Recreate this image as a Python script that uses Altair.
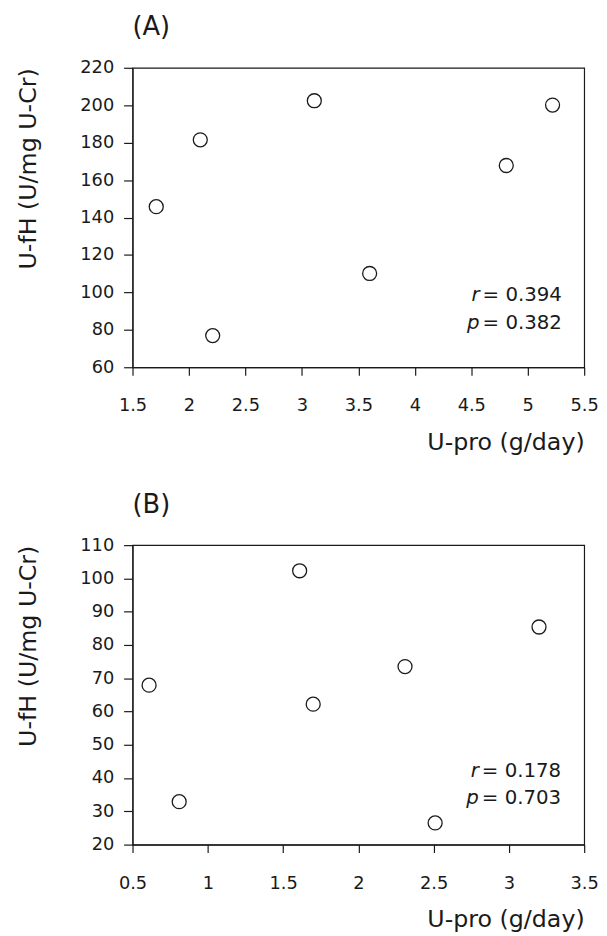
import altair as alt
import pandas as pd

# Panel A data
a_upro = [1.71, 2.10, 2.21, 3.11, 3.60, 4.81, 5.22]
a_ufh = [145.8, 181.5, 76.9, 202.4, 110.1, 167.8, 200.1]
a_xticks = [1.5, 2, 2.5, 3, 3.5, 4, 4.5, 5, 5.5]
a_yticks = [60, 80, 100, 120, 140, 160, 180, 200, 220]
a_stats = ["= 0.394", "= 0.382"]
a_annot_x = [4.60, 4.60]
a_annot_y = [98.5, 83.5]

# Panel B data
b_upro = [0.61, 0.81, 1.61, 1.70, 2.31, 2.51, 3.20]
b_ufh = [67.9, 32.9, 102.3, 62.2, 73.5, 26.5, 85.4]
b_xticks = [0.5, 1, 1.5, 2, 2.5, 3, 3.5]
b_yticks = [20, 30, 40, 50, 60, 70, 80, 90, 100, 110]
b_stats = ["= 0.178", "= 0.703"]
b_annot_x = [2.82, 2.82]
b_annot_y = [42.0, 34.0]

stat_names = ["r", "p"]

FONT = "DejaVu Sans"
INK = "#1a1a1a"
XTITLE = "U-pro (g/day)"
YTITLE = "U-fH (U/mg U-Cr)"


def panel(xs, ys, xticks, yticks, letter, stats, annx, anny):
    df = pd.DataFrame({"x": xs, "y": ys})
    ann = pd.DataFrame({"x": annx, "y": anny, "name": stat_names, "val": stats})
    xs_ = alt.Scale(domain=[xticks[0], xticks[-1]], nice=False, zero=False)
    ys_ = alt.Scale(domain=[yticks[0], yticks[-1]], nice=False, zero=False)
    xaxis = alt.Axis(values=xticks, tickCount=len(xticks), labelExpr="'' + datum.value",
                     title=XTITLE, titleAnchor="end",
                     tickSize=8, labelPadding=22, titlePadding=16, labelFlush=False,
                     labelOverlap=False, grid=False)
    yaxis = alt.Axis(values=yticks, tickCount=len(yticks), labelExpr="'' + datum.value",
                     title=YTITLE, titleAnchor="end",
                     tickSize=9, labelPadding=10, titlePadding=40, labelOverlap=False, grid=False)
    pts = alt.Chart(df).mark_point(shape="circle", filled=False, color=INK, size=200,
                                   strokeWidth=1.3, opacity=1).encode(
        x=alt.X("x:Q", scale=xs_, axis=xaxis),
        y=alt.Y("y:Q", scale=ys_, axis=yaxis),
    )
    t1 = alt.Chart(ann).mark_text(align="right", baseline="middle", fontStyle="italic",
                                  font=FONT, fontSize=20, color=INK, dx=-3).encode(
        x=alt.X("x:Q", scale=xs_, title=XTITLE),
        y=alt.Y("y:Q", scale=ys_, title=YTITLE),
        text="name:N",
    )
    t2 = alt.Chart(ann).mark_text(align="left", baseline="middle",
                                  font=FONT, fontSize=20, color=INK).encode(
        x=alt.X("x:Q", scale=xs_, title=XTITLE),
        y=alt.Y("y:Q", scale=ys_, title=YTITLE),
        text="val:N",
    )
    return alt.layer(pts, t1, t2).properties(
        width=457, height=303,
        title=alt.TitleParams(letter, anchor="start", frame="group", fontSize=26, font=FONT,
                              fontWeight="normal", color=INK, offset=19),
    )


pa = panel(a_upro, a_ufh, a_xticks, a_yticks, "(A)", a_stats, a_annot_x, a_annot_y)
pb = panel(b_upro, b_ufh, b_xticks, b_yticks, "(B)", b_stats, b_annot_x, b_annot_y)

chart = alt.vconcat(pa, pb, spacing=36).properties(
    padding={"left": 8, "top": 0, "right": 0, "bottom": 0},
    background="white",
).configure_view(
    stroke=INK, strokeWidth=1.2
).configure_axis(
    grid=False, domainColor=INK, tickColor=INK, labelColor=INK, titleColor=INK,
    labelFont=FONT, titleFont=FONT, labelFontSize=18, titleFontSize=24,
    titleFontWeight="normal", domainWidth=1.2, tickWidth=1.2
)

chart.save("out.html", embed_options={"renderer": "svg", "actions": False})
